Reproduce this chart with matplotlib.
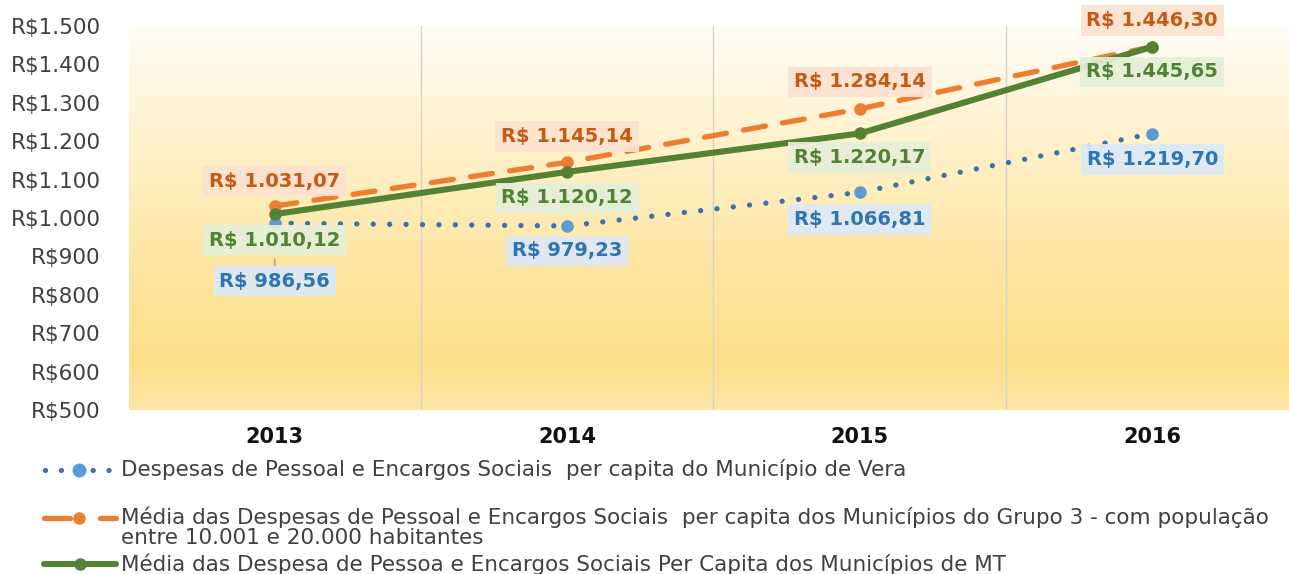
import matplotlib
matplotlib.use("Agg")
import matplotlib.pyplot as plt
import numpy as np
from matplotlib.colors import LinearSegmentedColormap
from matplotlib.lines import Line2D
from matplotlib.transforms import offset_copy

plt.rcParams['font.family'] = ['DejaVu Sans']

# ---------------- data ----------------
years = ["2013", "2014", "2015", "2016"]
vera = [986.56, 979.23, 1066.81, 1219.70]
grupo3 = [1031.07, 1145.14, 1284.14, 1446.30]
mt = [1010.12, 1120.12, 1220.17, 1445.65]
vera_labels = ["R$ 986,56", "R$ 979,23", "R$ 1.066,81", "R$ 1.219,70"]
grupo3_labels = ["R$ 1.031,07", "R$ 1.145,14", "R$ 1.284,14", "R$ 1.446,30"]
mt_labels = ["R$ 1.010,12", "R$ 1.120,12", "R$ 1.220,17", "R$ 1.445,65"]
yticks = [500, 600, 700, 800, 900, 1000, 1100, 1200, 1300, 1400, 1500]
ytick_labels = ["R$500", "R$600", "R$700", "R$800", "R$900", "R$1.000",
                "R$1.100", "R$1.200", "R$1.300", "R$1.400", "R$1.500"]
legend_labels = [
    "Despesas de Pessoal e Encargos Sociais  per capita do Município de Vera",
    "Média das Despesas de Pessoal e Encargos Sociais  per capita dos Municípios do Grupo 3 - com população\nentre 10.001 e 20.000 habitantes",
    "Média das Despesa de Pessoa e Encargos Sociais Per Capita dos Municípios de MT",
]

# ---------------- layout (pixels) ----------------
W, H = 1289, 574
fig = plt.figure(figsize=(W / 100, H / 100), dpi=100)
ax_left, ax_right, ax_top, ax_bot = 128.5, 1289, 26, 410
ax = fig.add_axes([ax_left / W, (H - ax_bot) / H, (ax_right - ax_left) / W, (ax_bot - ax_top) / H])

cat_w = (1298.5 - 128.5) / 4
x = np.arange(len(years))

# background gradient (top -> bottom)
cmap = LinearSegmentedColormap.from_list(
    "bg", [(0.0, "#fffdf6"), (0.3, "#fff1cc"), (0.65, "#fde59f"), (0.88, "#fcdf8a"), (1.0, "#fde7a8")])
grad = np.linspace(0, 1, 256).reshape(-1, 1)
ax.imshow(grad, extent=[-0.5, 3.5, 500, 1500], origin="upper", aspect="auto", cmap=cmap, zorder=0)
ax.set_xlim(-0.5, 3.5 - (1298.5 - ax_right) / cat_w)
ax.set_ylim(500, 1500)

# vertical gridlines at category boundaries
for b in [0.5, 1.5, 2.5]:
    ax.axvline(b, color="#d6d2ca", lw=1.0, zorder=1)

for s in ax.spines.values():
    s.set_visible(False)

ax.set_yticks(yticks)
ax.set_yticklabels(ytick_labels)
ax.set_xticks(x)
ax.set_xticklabels(years, fontweight="bold")
ax.tick_params(axis="y", length=0, pad=20, labelsize=15.5, labelcolor="#404040")
ax.tick_params(axis="x", length=0, pad=12, labelsize=15, labelcolor="#111111")

blue_line, blue_mk = "#3b6fae", "#5b9bd5"
orange = "#ed7d31"
green = "#548235"

ax.plot(x, vera, color=blue_line, lw=3.8, linestyle=(0, (0.01, 3.1)),
        dash_capstyle="round", zorder=3)
ax.plot(x, vera, linestyle="none", marker="o", ms=8, color=blue_mk, zorder=3)
ax.plot(x, grupo3, color=orange, lw=3.8, linestyle=(0, (4.2, 3.3)),
        dash_capstyle="round", zorder=4, marker="o", ms=8)
ax.plot(x, mt, color=green, lw=4.4, solid_capstyle="round", zorder=5,
        marker="o", ms=8)

# data labels
lab_cfg = [
    (grupo3, grupo3_labels, [25, 26, 27, 26], "#c55a11", "#fbe2d0"),
    (mt, mt_labels, [-26, -26, -24, -25], "#538135", "#e4f0d8"),
    (vera, vera_labels, [-58, -25, -27, -26], "#2e75b6", "#dde9f5"),
]
for vals, labs, offs, tc, bc in lab_cfg:
    for i, (v, t, dy) in enumerate(zip(vals, labs, offs)):
        ax.annotate(t, xy=(i, v), xytext=(0, dy), textcoords="offset pixels",
                    ha="center", va="center", fontsize=14, fontweight="bold",
                    color=tc, zorder=6, annotation_clip=False,
                    bbox=dict(boxstyle="square,pad=0.3", fc=bc, ec="none", alpha=0.92))

# leader line for the 2013 Vera label
ax.annotate("", xy=(0, vera[0]), xycoords=offset_copy(ax.transData, fig=fig, x=0, y=-36, units="dots"),
            xytext=(0, vera[0]), textcoords=offset_copy(ax.transData, fig=fig, x=0, y=-45, units="dots"),
            arrowprops=dict(arrowstyle="-", color="#a0a0a0", lw=1, shrinkA=0, shrinkB=0))

# ---------------- legend (drawn manually) ----------------
def fx(px):
    return px / W

def fy(py):
    return (H - py) / H

rows = [470, 518, 564]
# blue handle
fig.add_artist(Line2D([fx(45), fx(109)], [fy(rows[0])] * 2, color=blue_line, lw=3.8,
                      linestyle=(0, (0.01, 3.0)), dash_capstyle="round"))
fig.add_artist(Line2D([fx(79)], [fy(rows[0])], marker="o", ms=9, color=blue_mk, linestyle="none"))
# orange handle
fig.add_artist(Line2D([fx(44), fx(70)], [fy(rows[1])] * 2, color=orange, lw=3.8, solid_capstyle="round"))
fig.add_artist(Line2D([fx(100), fx(116)], [fy(rows[1])] * 2, color=orange, lw=3.8, solid_capstyle="round"))
fig.add_artist(Line2D([fx(79)], [fy(rows[1])], marker="o", ms=8, color=orange, linestyle="none"))
# green handle
fig.add_artist(Line2D([fx(44), fx(116)], [fy(rows[2])] * 2, color=green, lw=4.4, solid_capstyle="round"))
fig.add_artist(Line2D([fx(80)], [fy(rows[2])], marker="o", ms=8, color=green, linestyle="none"))

fs_leg = 15.5
fig.text(fx(121), fy(rows[0]), legend_labels[0], ha="left", va="center", fontsize=fs_leg, color="#404040")
fig.text(fx(121), fy(rows[1] - 11), legend_labels[1], ha="left", va="top", fontsize=fs_leg,
         color="#404040", linespacing=0.97)
fig.text(fx(121), fy(rows[2]), legend_labels[2], ha="left", va="center", fontsize=fs_leg, color="#404040")

fig.savefig("out.png", dpi=100)
